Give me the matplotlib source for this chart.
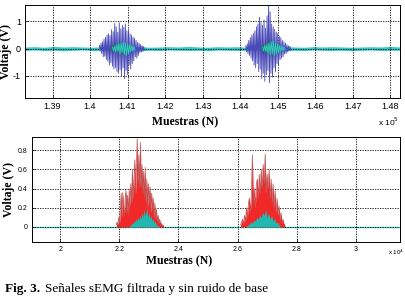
import numpy as np
import matplotlib
matplotlib.use('Agg')
import matplotlib.pyplot as plt

# ---- datos ----
# panel superior: senal filtrada (muestras x 1e5)
ticks_sup = [1.39e5, 1.40e5, 1.41e5, 1.42e5, 1.43e5, 1.44e5, 1.45e5, 1.46e5, 1.47e5, 1.48e5]
etiquetas_sup = ['1.39', '1.4', '1.41', '1.42', '1.43', '1.44', '1.45', '1.46', '1.47', '1.48']
rafaga1_ini, rafaga1_fin = 1.4025e5, 1.4145e5
rafaga1 = [0.12, -0.1, 0.2, -0.18, 0.25, -0.3, 0.35, -0.28, 0.42, -0.4, 0.5, -0.45, 0.55, -0.6, 0.48,
           -0.52, 0.7, -0.65, 0.62, -0.75, 0.92, -0.7, 0.8, -0.85, 0.6, -0.9, 0.95, -0.78, 0.72, -1.0,
           0.85, -0.7, 0.78, -1.1, 0.9, -0.8, 0.65, -0.95, 0.7, -0.6, 0.55, -0.75, 0.5, -0.55, 0.42,
           -0.45, 0.38, -0.3, 0.3, -0.35, 0.22, -0.25, 0.2, -0.15, 0.15, -0.12, 0.1, -0.1, 0.08, -0.06]
rafaga2_ini, rafaga2_fin = 1.4415e5, 1.4535e5
rafaga2 = [0.1, -0.12, 0.18, -0.2, 0.3, -0.25, 0.4, -0.35, 0.5, -0.45, 0.55, -0.6, 0.65, -0.7, 0.8,
           -0.55, 0.9, -0.85, 1.15, -0.75, 0.95, -1.1, 0.85, -0.9, 1.05, -1.2, 0.75, -0.95, 1.2, -0.8,
           1.7, -1.25, 1.35, -0.9, 0.9, -1.05, 0.8, -0.7, 0.7, -0.85, 0.6, -0.55, 0.55, -0.6, 0.45,
           -0.4, 0.4, -0.35, 0.3, -0.3, 0.25, -0.2, 0.2, -0.18, 0.15, -0.12, 0.1, -0.08, 0.08, -0.06]
verde1 = [0.05, -0.08, 0.1, -0.12, 0.15, -0.1, 0.18, -0.2, 0.22, -0.15, 0.25, -0.22, 0.2, -0.25, 0.18,
          -0.2, 0.15, -0.12, 0.12, -0.1, 0.08, -0.06]
verde2 = [0.06, -0.08, 0.12, -0.1, 0.15, -0.18, 0.2, -0.22, 0.25, -0.2, 0.28, -0.25, 0.22, -0.2, 0.18,
          -0.15, 0.12, -0.1, 0.1, -0.08, 0.06, -0.05]
# banda de ruido de base (limites superior e inferior)
banda_sup = [0.06, 0.07, 0.05, 0.08, 0.06, 0.07, 0.06, 0.05, 0.07, 0.06, 0.08, 0.06, 0.07, 0.05, 0.06,
             0.07, 0.06, 0.08, 0.06, 0.05, 0.07, 0.06, 0.07, 0.05, 0.06, 0.08, 0.06, 0.07, 0.06, 0.05,
             0.07, 0.06, 0.07, 0.06, 0.05, 0.06, 0.07, 0.06, 0.08, 0.06]
banda_inf = [-0.06, -0.05, -0.07, -0.06, -0.08, -0.06, -0.05, -0.07, -0.06, -0.07, -0.05, -0.06, -0.08,
             -0.06, -0.07, -0.05, -0.06, -0.07, -0.06, -0.08, -0.05, -0.06, -0.07, -0.06, -0.05, -0.07,
             -0.06, -0.08, -0.06, -0.07, -0.05, -0.06, -0.07, -0.06, -0.08, -0.06, -0.05, -0.07, -0.06,
             -0.06]

# panel inferior: senal sin ruido de base (muestras x 1e4)
ticks_inf = [2.0e4, 2.2e4, 2.4e4, 2.6e4, 2.8e4, 3.0e4]
etiquetas_inf = ['2', '2.2', '2.4', '2.6', '2.8', '3']
rojo1_ini, rojo1_fin = 2.19e4, 2.35e4
rojo1 = [0.02, 0.05, 0.03, 0.1, 0.04, 0.2, 0.35, 0.1, 0.36, 0.2, 0.12, 0.3, 0.38, 0.15, 0.33, 0.12,
         0.4, 0.22, 0.45, 0.25, 0.6, 0.3, 0.5, 0.7, 0.35, 0.62, 0.92, 0.45, 0.75, 0.4, 0.88, 0.42, 0.65,
         0.35, 0.58, 0.3, 0.62, 0.25, 0.5, 0.2, 0.45, 0.25, 0.42, 0.15, 0.35, 0.18, 0.3, 0.1, 0.25, 0.08,
         0.18, 0.06, 0.12, 0.04, 0.08, 0.03, 0.04, 0.02, 0.02, 0.01]
cian1 = [0.01, 0.02, 0.04, 0.03, 0.06, 0.05, 0.08, 0.06, 0.1, 0.07, 0.12, 0.08, 0.15, 0.1, 0.18, 0.12,
         0.14, 0.2, 0.1, 0.15, 0.08, 0.12, 0.06, 0.09, 0.04, 0.06, 0.03, 0.02, 0.01, 0.0]
rojo2_ini, rojo2_fin = 2.61e4, 2.76e4
rojo2 = [0.02, 0.05, 0.08, 0.03, 0.12, 0.06, 0.2, 0.1, 0.25, 0.3, 0.15, 0.35, 0.75, 0.25, 0.4, 0.2,
         0.45, 0.5, 0.3, 0.55, 0.35, 0.6, 0.4, 0.65, 0.45, 0.76, 0.35, 0.55, 0.4, 0.6, 0.3, 0.5, 0.25,
         0.45, 0.2, 0.38, 0.15, 0.3, 0.12, 0.22, 0.08, 0.15, 0.05, 0.08, 0.03, 0.02]
cian2 = [0.01, 0.02, 0.03, 0.05, 0.04, 0.07, 0.06, 0.1, 0.08, 0.12, 0.1, 0.15, 0.12, 0.18, 0.1, 0.14,
         0.08, 0.12, 0.06, 0.09, 0.04, 0.05, 0.02, 0.01]

serif = 'Liberation Serif'
sans = 'Liberation Sans'

fig = plt.figure(figsize=(4.06, 3.03), dpi=100)

def estilo(ax):
    ax.grid(True, color='black', linestyle=(0, (1.5, 1.5)), linewidth=0.6)
    ax.tick_params(direction='in', length=2, width=0.5, pad=3)
    for s in ax.spines.values():
        s.set_linewidth(0.7)

# ---- panel superior ----
ax1 = fig.add_axes([0.062, 0.677, 0.923, 0.307])
x_banda = np.linspace(1.3827e5, 1.4826e5, len(banda_sup))
ax1.fill_between(x_banda, banda_inf, banda_sup, color='#30c8c8', linewidth=0)
x1 = np.linspace(rafaga1_ini, rafaga1_fin, len(rafaga1))
x2 = np.linspace(rafaga2_ini, rafaga2_fin, len(rafaga2))
ax1.plot(x1, rafaga1, color='#4a4ab8', linewidth=0.6)
ax1.plot(x2, rafaga2, color='#4a4ab8', linewidth=0.6)
ax1.plot(np.linspace(1.4055e5, 1.4115e5, len(verde1)), verde1, color='#208040', linewidth=0.7)
ax1.plot(np.linspace(1.4455e5, 1.4515e5, len(verde2)), verde2, color='#208040', linewidth=0.7)
ax1.plot(np.linspace(1.4060e5, 1.4120e5, len(verde1)), verde1, color='#30d0d0', linewidth=0.6)
ax1.plot(np.linspace(1.4460e5, 1.4520e5, len(verde2)), verde2, color='#30d0d0', linewidth=0.6)
ax1.set_xlim(1.3827e5, 1.4826e5)
ax1.set_ylim(-1.8, 1.6)
ax1.set_xticks(ticks_sup)
ax1.set_xticklabels(etiquetas_sup, fontsize=6.5, family=sans)
ax1.set_yticks([-1, 0, 1])
ax1.set_yticklabels(['-1', '0', '1'], fontsize=6.5, family=sans)
ax1.set_ylabel('Voltaje (V)', fontsize=8.5, family=serif, fontweight='bold', labelpad=1)
ax1.set_xlabel('Muestras (N)', fontsize=8.5, family=serif, fontweight='bold', labelpad=2)
ax1.xaxis.set_label_coords(0.427, -0.2)
estilo(ax1)
fig.text(0.93, 0.585, r'x 10$^5$', fontsize=6, family=sans)

# ---- panel inferior ----
ax2 = fig.add_axes([0.079, 0.201, 0.906, 0.347])
ax2.axhline(0, color='#40c8c8', linewidth=1.0, zorder=1)
xr1 = np.linspace(rojo1_ini, rojo1_fin, len(rojo1))
xr2 = np.linspace(rojo2_ini, rojo2_fin, len(rojo2))
ax2.fill_between(xr1, 0, rojo1, color='#f02828', linewidth=0, zorder=2)
ax2.plot(xr1, rojo1, color='#c05050', linewidth=0.5, zorder=2)
ax2.fill_between(xr2, 0, rojo2, color='#f02828', linewidth=0, zorder=2)
ax2.plot(xr2, rojo2, color='#c05050', linewidth=0.5, zorder=2)
xc1 = np.linspace(2.235e4, 2.335e4, len(cian1))
xc2 = np.linspace(2.63e4, 2.745e4, len(cian2))
ax2.fill_between(xc1, 0, cian1, color='#20b8b0', linewidth=0, zorder=3)
ax2.fill_between(xc2, 0, cian2, color='#20b8b0', linewidth=0, zorder=3)
ax2.set_xlim(1.905e4, 3.149e4)
ax2.set_ylim(-0.158, 0.937)
ax2.set_xticks(ticks_inf)
ax2.set_xticklabels(etiquetas_inf, fontsize=5, family=sans)
ax2.set_yticks([0, 0.2, 0.4, 0.6, 0.8])
ax2.set_yticklabels(['0', '0.2', '0.4', '0.6', '0.8'], fontsize=5, family=sans)
ax2.set_ylabel('Voltaje (V)', fontsize=8.5, family=serif, fontweight='bold', labelpad=2)
ax2.set_xlabel('Muestras (N)', fontsize=8.5, family=serif, fontweight='bold', labelpad=3)
ax2.xaxis.set_label_coords(0.40, -0.13)
estilo(ax2)
fig.text(0.955, 0.16, r'x 10$^4$', fontsize=4.5, family=sans)

# ---- pie de figura ----
fig.text(0.012, 0.035, 'Fig. 3.', fontsize=9.5, family=serif, fontweight='bold')
fig.text(0.112, 0.035, 'Señales sEMG filtrada y sin ruido de base', fontsize=9.5, family=serif)

fig.savefig('out.png', dpi=100)
